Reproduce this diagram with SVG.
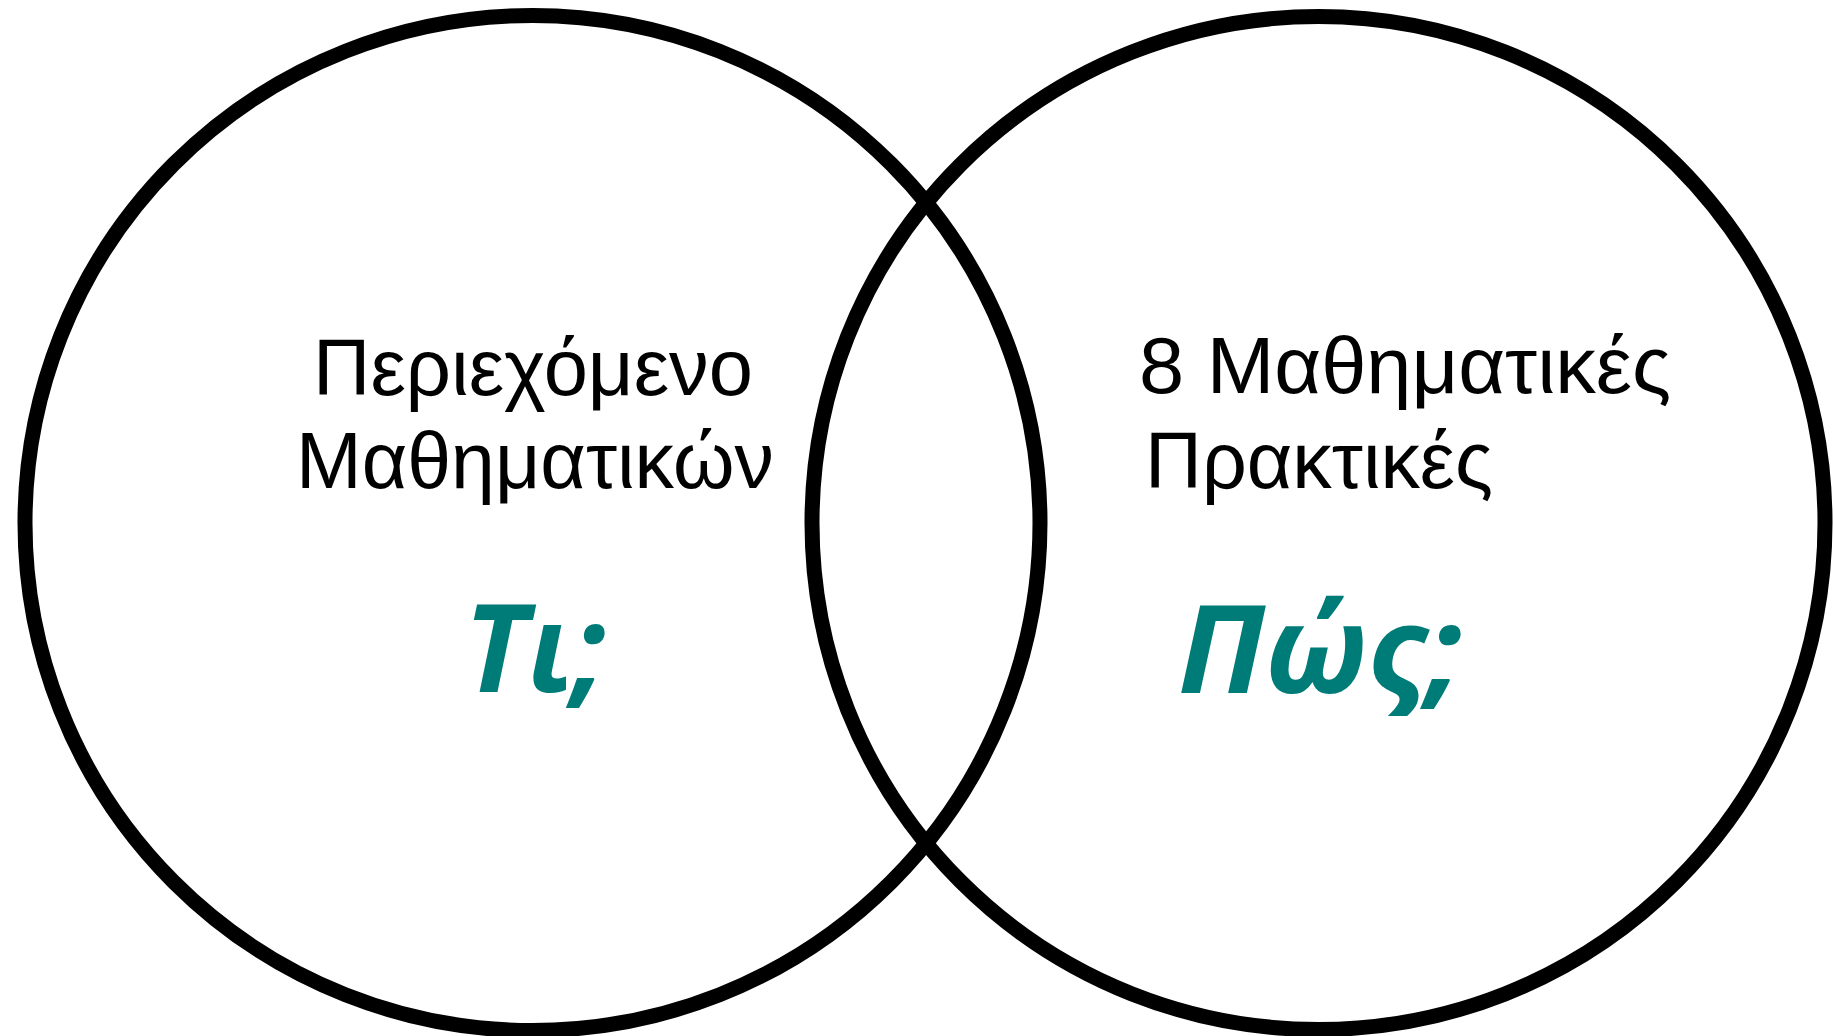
<svg xmlns="http://www.w3.org/2000/svg" width="1833" height="1036" viewBox="0 0 1833 1036">
<style>
.ring{fill:none;stroke:#000;stroke-width:15}
.lbl{font-family:"Liberation Sans","Open Sans",sans-serif;font-size:80px;fill:#000}
.q{font-family:"Open Sans","Noto Sans","Liberation Sans",sans-serif;font-size:122px;font-weight:bold;font-style:italic;fill:#007C78}
</style>
<rect width="1833" height="1036" fill="#fff"/>
<g id="left-circle">
<circle class="ring" cx="532.5" cy="523" r="507.5"/>
<text class="lbl" x="533" y="395" text-anchor="middle" textLength="440" lengthAdjust="spacingAndGlyphs">Περιεχόμενο</text>
<text class="lbl" x="535" y="488" text-anchor="middle" textLength="478" lengthAdjust="spacingAndGlyphs">Μαθηματικών</text>
<text class="q" x="464" y="692" textLength="142" lengthAdjust="spacingAndGlyphs">Τι;</text>
</g>
<g id="right-circle">
<circle class="ring" cx="1318.5" cy="523" r="506.5"/>
<text class="lbl" x="1139" y="393" textLength="532" lengthAdjust="spacingAndGlyphs">8 Μαθηματικές</text>
<text class="lbl" x="1145" y="488" textLength="348" lengthAdjust="spacingAndGlyphs">Πρακτικές</text>
<text class="q" x="1178" y="693" textLength="284" lengthAdjust="spacingAndGlyphs">Πώς;</text>
</g>
<g id="connectors"></g>
</svg>
